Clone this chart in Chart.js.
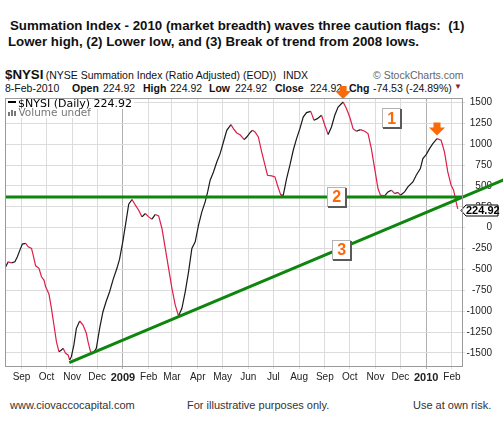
<!DOCTYPE html>
<html>
<head>
<meta charset="utf-8">
<script src="https://cdn.jsdelivr.net/npm/chart.js@4.4.1/dist/chart.umd.min.js"></script>
<style>
html, body { margin: 0; padding: 0; background: #fff; }
#wrap { position: relative; width: 503px; height: 430px; overflow: hidden; font-family: "Liberation Sans", Arial, sans-serif; color: #111; }
#wrap span { position: absolute; white-space: pre; line-height: 1; }
.t { font-weight: bold; font-size: 13.3px; }
.h { font-size: 10.5px; }
.b { font-weight: bold; }
.f { font-size: 11px; color: #333; }
canvas { position: absolute; left: 0; top: 0; z-index: 2; }
</style>
</head>
<body>
<div id="wrap">
  <span class="t" style="left:10px;top:18.8px">Summation Index - 2010 (market breadth) waves three caution flags:  (1)</span>
  <span class="t" style="left:8px;top:34.5px">Lower high, (2) Lower low, and (3) Break of trend from 2008 lows.</span>

  <span class="t" style="left:5px;top:68px">$NYSI</span>
  <span class="h" style="left:45.7px;top:70.1px">(NYSE Summation Index (Ratio Adjusted) (EOD))</span>
  <span class="h" style="left:283px;top:70.1px">INDX</span>
  <span class="h" style="left:373px;top:70.1px;color:#666">© StockCharts.com</span>

  <span class="h" style="left:5px;top:83.4px">8-Feb-2010</span>
  <span class="h b" style="left:72px;top:83.4px">Open</span>
  <span class="h" style="left:103px;top:83.4px">224.92</span>
  <span class="h b" style="left:143px;top:83.4px">High</span>
  <span class="h" style="left:170px;top:83.4px">224.92</span>
  <span class="h b" style="left:209px;top:83.4px">Low</span>
  <span class="h" style="left:235px;top:83.4px">224.92</span>
  <span class="h b" style="left:275px;top:83.4px">Close</span>
  <span class="h" style="left:310px;top:83.4px">224.92</span>
  <span class="h b" style="left:349px;top:83.4px">Chg</span>
  <span class="h" style="left:373px;top:83.4px">-74.53 (-24.89%)</span>
  <span class="h" style="left:454px;top:83.4px;color:#8b1a3a;font-size:8px">▼</span>

  <span class="f" style="left:10px;top:400px">www.ciovaccocapital.com</span>
  <span class="f" style="left:187px;top:400px">For illustrative purposes only.</span>
  <span class="f" style="left:413px;top:400px">Use at own risk.</span>

  <canvas id="c" width="503" height="430"></canvas>
</div>

<script>
// calendar days after 1-Sep-2008
var days = [-19, -16, -12, -8, -5, -2, 1, 5, 8, 12, 14, 17, 21, 24, 27, 29, 33, 36, 39, 42,
  45, 48, 50, 53, 56, 58, 60, 63, 66, 70, 74, 78, 80, 83, 86, 90, 94, 98, 102, 106,
  110, 115, 118, 122, 126, 129, 133, 137, 141, 145, 149, 153, 157, 161, 165, 169, 173, 177, 181, 185,
  189, 193, 197, 201, 205, 209, 213, 217, 221, 224, 227, 231, 235, 239, 243, 247, 252, 255, 259, 263,
  268, 271, 275, 278, 281, 285, 289, 293, 296, 301, 305, 308, 312, 315, 319, 323, 327, 331, 335, 339,
  343, 348, 352, 356, 361, 365, 369, 373, 377, 381, 387, 391, 395, 399, 403, 408, 413, 417, 421, 425,
  429, 432, 437, 441, 445, 449, 453, 456, 461, 465, 471, 475, 480, 483, 487, 491, 495, 500, 505, 509,
  513, 517, 520, 523, 525];
var nysi = [-469, -409, -421, -409, -349, -269, -197, -189, -230, -249, -329, -457, -488, -588, -628, -708, -795, -966, -1166, -1366,
  -1485, -1465, -1445, -1505, -1525, -1585, -1545, -1405, -1206, -1118, -1166, -1265, -1366, -1485, -1505, -1445, -1206, -1007, -879, -768,
  -628, -481, -377, -161, 90, 281, 337, 269, 209, 129, 170, 129, 102, 158, 141, -10, -249, -488, -727, -927,
  -1058, -966, -768, -529, -249, -170, 30, 189, 309, 428, 568, 667, 787, 887, 1026, 1166, 1234, 1186, 1134, 1112,
  1055, 1086, 1139, 1166, 1146, 1086, 907, 748, 628, 620, 608, 508, 389, 389, 588, 748, 927, 1067, 1186, 1325,
  1378, 1393, 1286, 1306, 1346, 1226, 1115, 1206, 1346, 1445, 1505, 1426, 1325, 1186, 1154, 1174, 1154, 1127, 947, 708,
  469, 389, 380, 428, 449, 409, 421, 389, 428, 488, 548, 628, 708, 828, 875, 947, 1007, 1067, 1047, 907,
  667, 508, 449, 309, 224.92];

var monthDays = [0, 30, 61, 91, 122, 153, 181, 212, 242, 273, 303, 334, 365, 395, 426, 456, 487, 518];
var monthLabels = ['Sep', 'Oct', 'Nov', 'Dec', '2009', 'Feb', 'Mar', 'Apr', 'May', 'Jun', 'Jul', 'Aug',
  'Sep', 'Oct', 'Nov', 'Dec', '2010', 'Feb'];
var yearDays = [122, 487];
var yTicks = [-1500, -1250, -1000, -750, -500, -250, 0, 250, 500, 750, 1000, 1250, 1500];

// the two green lines: flat support and the rising trend from the 2008 lows
var supportLevel = 368;
var trendDays = [57.5, 585];
var trendValues = [-1617, 593];

// orange arrows over the two peaks, numbered flags
var arrowDays = [387, 500];
var arrowValues = [1505, 1067];
var flagLabels = ['1', '2', '3'];
var flagDays = [445.5, 379.3, 385.3];
var flagValues = [1312, 368, -263];

var X_MIN = -19.9, X_MAX = 530.1;
var Y_MIN = -1657, Y_MAX = 1553;

var lastValue = nysi[nysi.length - 1];
var legendText = '$NYSI (Daily) ' + lastValue.toFixed(2);

function drawArrow(ctx, cx, tip) {
  ctx.fillStyle = '#fa6a0a';
  ctx.beginPath();
  ctx.moveTo(cx - 3.5, tip - 13);
  ctx.lineTo(cx + 3.5, tip - 13);
  ctx.lineTo(cx + 3.5, tip - 8);
  ctx.lineTo(cx + 8, tip - 8);
  ctx.lineTo(cx, tip);
  ctx.lineTo(cx - 8, tip - 8);
  ctx.lineTo(cx - 3.5, tip - 8);
  ctx.closePath();
  ctx.fill();
}

function drawFlag(ctx, cx, cy, label) {
  var w = 19, h = 20;
  var x = Math.round(cx - w / 2), y = Math.round(cy - h / 2);
  ctx.fillStyle = '#fff';
  ctx.fillRect(x, y, w, h);
  ctx.strokeStyle = '#b4b4b4';
  ctx.lineWidth = 1;
  ctx.strokeRect(x + 0.5, y + 0.5, w - 1, h - 1);
  ctx.strokeStyle = '#5a5a5a';
  ctx.lineWidth = 2;
  ctx.beginPath();
  ctx.moveTo(x + w, y + 1);
  ctx.lineTo(x + w, y + h);
  ctx.lineTo(x + 1, y + h);
  ctx.stroke();
  ctx.fillStyle = '#fa6a0a';
  ctx.font = 'bold 16px "Liberation Sans", Arial';
  ctx.textAlign = 'center';
  ctx.textBaseline = 'middle';
  ctx.fillText(label, cx, cy + 1);
}

var overlay = {
  id: 'overlay',
  beforeDatasetsDraw: function (chart) {
    var ctx = chart.ctx, a = chart.chartArea;
    ctx.save();
    ctx.font = '11px "DejaVu Sans", Verdana';
    var w1 = ctx.measureText(legendText).width;
    ctx.fillStyle = '#fff';
    ctx.fillRect(a.left + 1, a.top + 1, 14 + w1, 10);
    ctx.font = '10.5px "DejaVu Sans", Verdana';
    var w2 = ctx.measureText('Volume undef').width;
    ctx.fillRect(a.left + 1, a.top + 11, 14 + w2, 9);
    // legend line sample
    ctx.fillStyle = '#000';
    ctx.fillRect(a.left + 3, a.top + 3, 8, 2);
    ctx.font = '11px "DejaVu Sans", Verdana';
    ctx.textBaseline = 'alphabetic';
    ctx.fillText(legendText, a.left + 13, a.top + 8.5);
    // volume icon
    ctx.fillStyle = '#777';
    ctx.fillRect(a.left + 3, a.top + 14, 2, 4);
    ctx.fillRect(a.left + 6, a.top + 12, 2, 6);
    ctx.fillRect(a.left + 9, a.top + 13, 2, 5);
    ctx.font = '10.5px "DejaVu Sans", Verdana';
    ctx.fillText('Volume undef', a.left + 13.5, a.top + 17.5);
    ctx.restore();
  },
  afterDatasetsDraw: function (chart) {
    var ctx = chart.ctx, xs = chart.scales.x, ys = chart.scales.y;
    ctx.save();
    for (var i = 0; i < arrowDays.length; i++) {
      drawArrow(ctx, xs.getPixelForValue(arrowDays[i]), ys.getPixelForValue(arrowValues[i]) - 3);
    }
    for (var j = 0; j < flagLabels.length; j++) {
      drawFlag(ctx, xs.getPixelForValue(flagDays[j]), ys.getPixelForValue(flagValues[j]), flagLabels[j]);
    }
    // last value tag on the right axis
    var py = Math.round(ys.getPixelForValue(lastValue)) + 1.5;
    var x0 = chart.chartArea.right - 1;
    ctx.beginPath();
    ctx.moveTo(x0, py);
    ctx.lineTo(x0 + 5, py - 5.5);
    ctx.lineTo(x0 + 37, py - 5.5);
    ctx.lineTo(x0 + 37, py + 5.5);
    ctx.lineTo(x0 + 5, py + 5.5);
    ctx.closePath();
    ctx.fillStyle = '#fff';
    ctx.fill();
    ctx.strokeStyle = '#000';
    ctx.lineWidth = 1;
    ctx.stroke();
    ctx.fillStyle = '#000';
    ctx.font = 'bold 11px "Liberation Sans", Arial';
    ctx.textAlign = 'left';
    ctx.textBaseline = 'middle';
    ctx.fillText(lastValue.toFixed(2), x0 + 5, py + 0.5);
    ctx.restore();
  },
  afterDraw: function (chart) {
    var ctx = chart.ctx, a = chart.chartArea;
    ctx.save();
    ctx.strokeStyle = '#9a9a9a';
    ctx.lineWidth = 1;
    ctx.strokeRect(a.left + 0.5, a.top + 0.5, a.right - a.left, a.bottom - a.top);
    ctx.restore();
  }
};

new Chart(document.getElementById('c'), {
  type: 'line',
  data: {
    datasets: [
      {
        data: days.map(function (d, i) { return { x: d, y: nysi[i] }; }),
        borderWidth: 1.2,
        pointRadius: 0,
        tension: 0,
        order: 2,
        segment: {
          borderColor: function (c) { return c.p1.parsed.y >= c.p0.parsed.y ? '#1a1a1a' : '#dc1f4b'; }
        }
      },
      {
        data: [{ x: X_MIN, y: supportLevel }, { x: X_MAX, y: supportLevel }],
        borderColor: '#0e860e',
        borderWidth: 3,
        pointRadius: 0,
        order: 1
      },
      {
        data: trendDays.map(function (d, i) { return { x: d, y: trendValues[i] }; }),
        borderColor: '#0e860e',
        borderWidth: 3,
        pointRadius: 0,
        clip: false,
        order: 1
      }
    ]
  },
  options: {
    responsive: false,
    animation: false,
    layout: { padding: { left: 5, top: 98, right: 11, bottom: 0 } },
    plugins: { legend: { display: false }, tooltip: { enabled: false } },
    scales: {
      x: {
        type: 'linear',
        min: X_MIN,
        max: X_MAX,
        afterFit: function (s) { s.height = 64; },
        afterBuildTicks: function (s) {
          s.ticks = monthDays.map(function (v) { return { value: v }; });
        },
        border: { display: false },
        grid: {
          tickLength: 3,
          color: function (c) { return yearDays.indexOf(c.tick && c.tick.value) >= 0 ? '#b0b0b0' : '#dcdcdc'; }
        },
        ticks: {
          autoSkip: false,
          maxRotation: 0,
          padding: 2,
          color: '#222',
          callback: function (v) { return monthLabels[monthDays.indexOf(v)]; },
          font: function (c) {
            var yr = c.tick && yearDays.indexOf(c.tick.value) >= 0;
            return { family: '"Liberation Sans", Arial', size: yr ? 11 : 10, weight: yr ? 'bold' : 'normal' };
          }
        }
      },
      y: {
        type: 'linear',
        position: 'right',
        min: Y_MIN,
        max: Y_MAX,
        afterFit: function (s) { s.width = 30; },
        afterBuildTicks: function (s) {
          s.ticks = yTicks.map(function (v) { return { value: v }; });
        },
        border: { display: false },
        grid: { tickLength: 3, color: '#dcdcdc' },
        ticks: {
          autoSkip: false,
          crossAlign: 'far',
          color: '#222',
          font: { family: '"Liberation Sans", Arial', size: 10 },
          callback: function (v) { return String(v); }
        }
      }
    }
  },
  plugins: [overlay]
});
</script>
</body>
</html>
